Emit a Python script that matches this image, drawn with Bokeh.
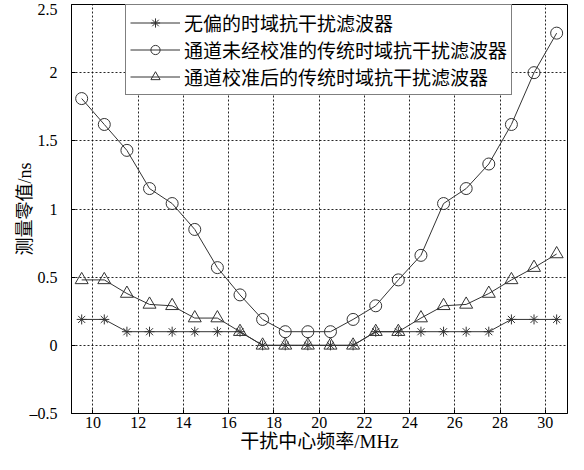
from bokeh.plotting import figure
from bokeh.models import FixedTicker, Range1d, Legend, LegendItem, Spacer
from bokeh.layouts import row
from bokeh.embed import file_html
from bokeh.resources import INLINE

freq = [9.5, 10.5, 11.5, 12.5, 13.5, 14.5, 15.5, 16.5, 17.5, 18.5, 19.5,
        20.5, 21.5, 22.5, 23.5, 24.5, 25.5, 26.5, 27.5, 28.5, 29.5, 30.5]
unbiased = [0.19, 0.19, 0.10, 0.10, 0.10, 0.10, 0.10, 0.10, 0.0, 0.0, 0.0,
            0.0, 0.0, 0.10, 0.10, 0.10, 0.10, 0.10, 0.10, 0.19, 0.19, 0.19]
uncal = [1.81, 1.62, 1.43, 1.15, 1.04, 0.85, 0.57, 0.37, 0.19, 0.10, 0.10,
         0.10, 0.19, 0.29, 0.48, 0.66, 1.04, 1.15, 1.33, 1.62, 2.00, 2.29]
cal = [0.48, 0.48, 0.38, 0.30, 0.29, 0.20, 0.20, 0.10, 0.0, 0.0, 0.0,
       0.0, 0.0, 0.10, 0.10, 0.20, 0.29, 0.30, 0.38, 0.48, 0.57, 0.67]

x_ticks = [10, 12, 14, 16, 18, 20, 22, 24, 26, 28, 30]
y_ticks = [-0.5, 0, 0.5, 1, 1.5, 2, 2.5]
y_labels = {-0.5: "\u20130.5", 0: "0", 0.5: "0.5", 1: "1", 1.5: "1.5", 2: "2", 2.5: "2.5"}

names = ["无偏的时域抗干扰滤波器", "通道未经校准的传统时域抗干扰滤波器", "通道校准后的传统时域抗干扰滤波器"]

SERIF = "'Liberation Serif', 'Noto Sans CJK SC'"

p = figure(width=557, height=454, output_backend="svg", toolbar_location=None,
           x_range=Range1d(9.05, 30.98), y_range=Range1d(-0.5, 2.5),
           min_border_left=40, min_border_right=1, min_border_top=4, min_border_bottom=40)
p.background_fill_color = "white"
p.border_fill_color = "white"
p.outline_line_color = "black"
p.outline_line_width = 1

for ax in (p.xaxis[0], p.yaxis[0]):
    ax.major_tick_in = 4
    ax.major_tick_out = 0
    ax.minor_tick_in = 0
    ax.minor_tick_out = 0
    ax.axis_line_color = "black"
    ax.major_tick_line_color = "black"
    ax.major_label_text_font = SERIF
    ax.major_label_text_font_size = "16px"
    ax.major_label_text_color = "black"
    ax.axis_label_text_font = SERIF
    ax.axis_label_text_font_style = "normal"
    ax.axis_label_text_color = "black"

p.xaxis.ticker = FixedTicker(ticks=x_ticks)
p.yaxis.ticker = FixedTicker(ticks=y_ticks)
p.yaxis.major_label_overrides = y_labels
p.xaxis.axis_label = "干扰中心频率/MHz"
p.yaxis.axis_label = "测量零值/ns"
p.xaxis.axis_label_text_font_size = "19px"
p.yaxis.axis_label_text_font_size = "18px"
p.xaxis.major_label_standoff = 3
p.yaxis.major_label_standoff = 14
p.xaxis.axis_label_standoff = 0
p.yaxis.axis_label_standoff = -8

for g in (p.xgrid[0], p.ygrid[0]):
    g.grid_line_color = "black"
    g.grid_line_dash = "2 2"
    g.grid_line_width = 1
    g.grid_line_alpha = 0.85

lc = "#333333"
l1 = p.line(freq, unbiased, line_color=lc, line_width=1)
m1 = p.scatter(freq, unbiased, marker="asterisk", size=10, line_color=lc, line_width=1)
l2 = p.line(freq, uncal, line_color=lc, line_width=1)
m2 = p.scatter(freq, uncal, marker="circle", size=12, line_color=lc, fill_color=None, line_width=1)
l3 = p.line(freq, cal, line_color=lc, line_width=1)
m3 = p.scatter(freq, cal, marker="triangle", size=13, line_color=lc, fill_color=None, line_width=1)

legend = Legend(items=[LegendItem(label=names[0], renderers=[l1, m1]),
                       LegendItem(label=names[1], renderers=[l2, m2]),
                       LegendItem(label=names[2], renderers=[l3, m3])],
                location=(54, 318))
legend.label_text_font = SERIF
legend.label_text_font_size = "19px"
legend.label_text_line_height = 0.9
legend.label_text_color = "black"
legend.label_height = 23
legend.glyph_height = 23
legend.glyph_width = 50
legend.label_standoff = 4
legend.spacing = 0
legend.padding = 4
legend.margin = 0
legend.border_line_color = "black"
legend.border_line_width = 1
legend.background_fill_color = "white"
legend.background_fill_alpha = 1
p.add_layout(legend, "center")

layout = row(Spacer(width=11, height=454), p)
open("out.html", "w").write(file_html(layout, INLINE))
